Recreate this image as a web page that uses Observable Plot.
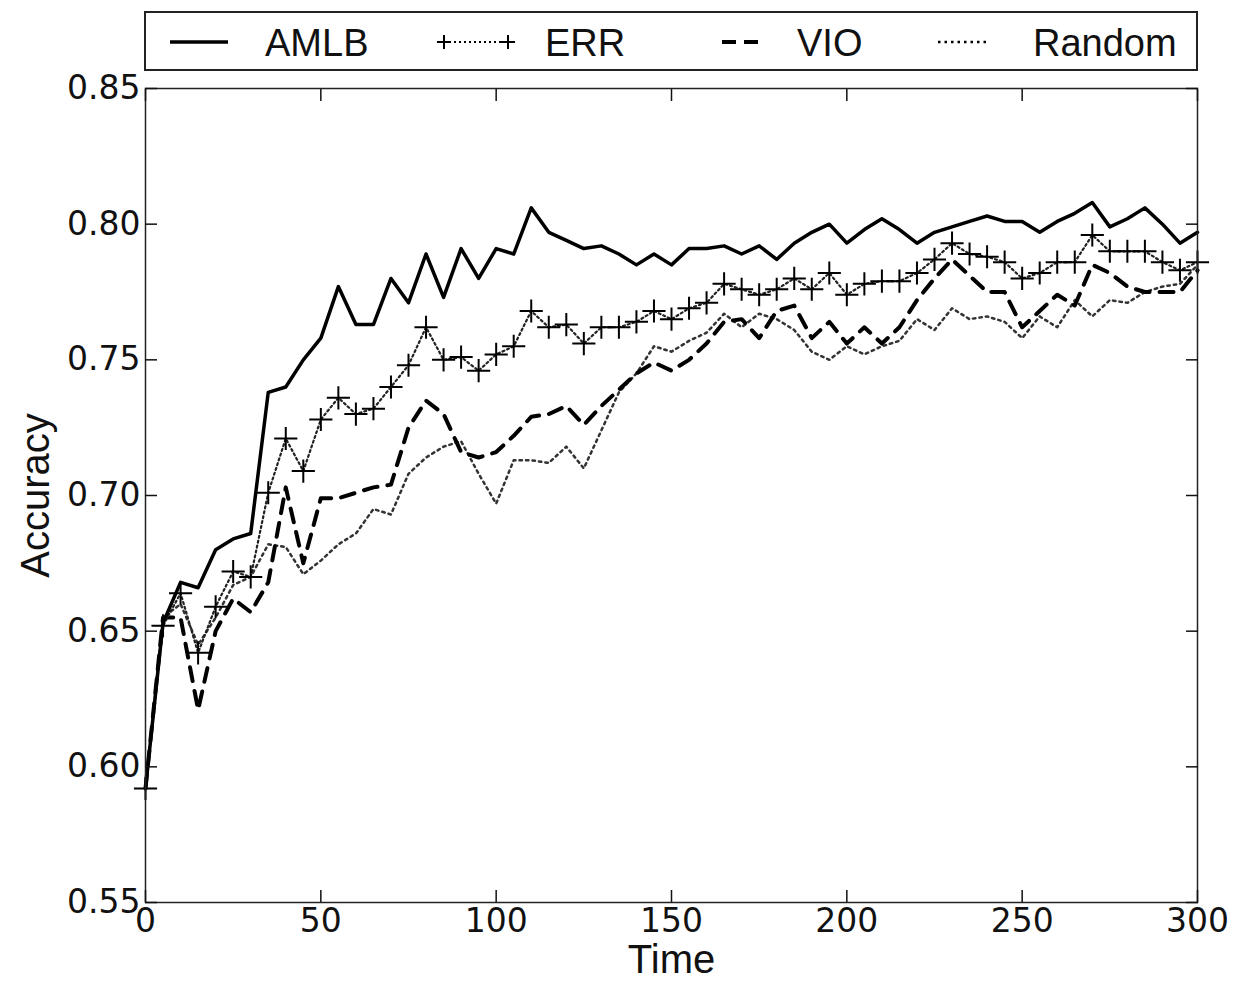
<!DOCTYPE html>
<html><head><meta charset="utf-8">
<script src="https://cdn.jsdelivr.net/npm/d3@7"></script>
<script src="https://cdn.jsdelivr.net/npm/@observablehq/plot@0.6"></script>
<style>
body{margin:0;background:#fff;}
#wrap{position:relative;width:1238px;height:982px;overflow:hidden;}
#wrap svg{position:absolute;left:0;top:0;}
</style></head><body><div id="wrap"></div>
<script>
const time = [0,5,10,15,20,25,30,35,40,45,50,55,60,65,70,75,80,85,90,95,100,105,110,115,120,125,130,135,140,145,150,155,160,165,170,175,180,185,190,195,200,205,210,215,220,225,230,235,240,245,250,255,260,265,270,275,280,285,290,295,300];
const amlb = [0.592,0.653,0.668,0.666,0.680,0.684,0.686,0.738,0.740,0.750,0.758,0.777,0.763,0.763,0.780,0.771,0.789,0.773,0.791,0.780,0.791,0.789,0.806,0.797,0.794,0.791,0.792,0.789,0.785,0.789,0.785,0.791,0.791,0.792,0.789,0.792,0.787,0.793,0.797,0.800,0.793,0.798,0.802,0.798,0.793,0.797,0.799,0.801,0.803,0.801,0.801,0.797,0.801,0.804,0.808,0.799,0.802,0.806,0.800,0.793,0.797];
const err = [0.592,0.652,0.664,0.642,0.659,0.672,0.670,0.701,0.721,0.709,0.728,0.736,0.730,0.732,0.740,0.748,0.762,0.750,0.751,0.746,0.752,0.755,0.768,0.762,0.763,0.756,0.762,0.762,0.764,0.768,0.765,0.769,0.771,0.778,0.776,0.774,0.776,0.780,0.776,0.782,0.774,0.778,0.779,0.779,0.782,0.787,0.793,0.789,0.788,0.786,0.780,0.782,0.786,0.786,0.796,0.790,0.790,0.790,0.786,0.783,0.786];
const vio = [0.592,0.655,0.655,0.621,0.650,0.662,0.657,0.668,0.703,0.675,0.699,0.699,0.701,0.703,0.704,0.725,0.735,0.730,0.716,0.714,0.716,0.722,0.729,0.730,0.733,0.726,0.733,0.739,0.745,0.749,0.746,0.750,0.756,0.764,0.765,0.758,0.768,0.770,0.758,0.764,0.756,0.762,0.756,0.762,0.772,0.780,0.787,0.781,0.775,0.775,0.762,0.768,0.774,0.770,0.785,0.782,0.777,0.775,0.775,0.775,0.783];
const random = [0.592,0.655,0.660,0.645,0.655,0.667,0.670,0.682,0.681,0.671,0.676,0.682,0.686,0.695,0.693,0.708,0.714,0.718,0.720,0.708,0.697,0.713,0.713,0.712,0.718,0.710,0.724,0.738,0.745,0.755,0.753,0.757,0.760,0.767,0.762,0.767,0.765,0.761,0.753,0.750,0.755,0.752,0.755,0.757,0.765,0.761,0.769,0.765,0.766,0.764,0.758,0.766,0.762,0.772,0.766,0.772,0.771,0.775,0.777,0.778,0.785];
const seriesNames = ["AMLB","ERR","VIO","Random"];
const xTicks = [0,50,100,150,200,250,300];
const yTicks = [0.55,0.60,0.65,0.70,0.75,0.80,0.85];

const rows = v => time.map((t,i)=>({t, v:v[i]}));
const fmt = d3.format(".2f");

const plot = Plot.plot({
  width:1238, height:982,
  marginLeft:145, marginRight:41, marginTop:88, marginBottom:80,
  style:{background:"#fff", fontFamily:"DejaVu Sans", fontSize:"33px", color:"#111", overflow:"visible"},
  x:{domain:[0,300]},
  y:{domain:[0.55,0.85]},
  marks:[
    Plot.line(rows(random), {x:"t", y:"v", stroke:"#333", strokeWidth:2.5, strokeDasharray:"2.5,4"}),
    Plot.line(rows(vio), {x:"t", y:"v", stroke:"#000", strokeWidth:4, strokeDasharray:"14,10"}),
    Plot.line(rows(err), {x:"t", y:"v", stroke:"#222", strokeWidth:2.2, strokeDasharray:"2,3"}),
    Plot.dot(rows(err), {x:"t", y:"v", symbol:"plus", r:7.5, stroke:"#000", strokeWidth:2}),
    Plot.line(rows(amlb), {x:"t", y:"v", stroke:"#000", strokeWidth:3.5}),
    Plot.frame({stroke:"#222", strokeWidth:1.5}),
    Plot.axisX({ticks:xTicks, tickSize:-12, tickPadding:18, strokeWidth:1.5, tickFormat:d=>String(d), label:"Time", labelAnchor:"center", labelArrow:"none", labelOffset:70}),
    Plot.axisX({anchor:"top", ticks:xTicks, tickSize:-12, strokeWidth:1.5, tickFormat:()=>"", label:null}),
    Plot.axisY({ticks:yTicks, tickSize:-12, tickPadding:17, strokeWidth:1.5, tickFormat:fmt, label:"Accuracy", labelAnchor:"center", labelArrow:"none", labelOffset:125}),
    Plot.axisY({anchor:"right", ticks:yTicks, tickSize:-12, strokeWidth:1.5, tickFormat:()=>"", label:null})
  ]
});
document.getElementById("wrap").appendChild(plot);
d3.select(plot).selectAll('[aria-label="x-axis label"] text, [aria-label="y-axis label"] text')
  .attr("font-family","Liberation Sans").attr("font-size","40px");

// Legend box
const lg = d3.select("#wrap").append("svg")
  .attr("width",1238).attr("height",80)
  .style("font-family","Liberation Sans").style("font-size","38px");
lg.append("rect").attr("x",145).attr("y",12).attr("width",1052).attr("height",58)
  .attr("fill","#fff").attr("stroke","#222").attr("stroke-width",2);
const cy = 42;
const items = [
  {name:seriesNames[0], x1:170, x2:228, tx:265, w:3.5, dash:null, plus:false},
  {name:seriesNames[1], x1:444, x2:508, tx:545, w:2, dash:"2,3", plus:true},
  {name:seriesNames[2], x1:722, x2:758, tx:797, w:4, dash:"14,8", plus:false},
  {name:seriesNames[3], x1:938, x2:988, tx:1033, w:2.5, dash:"2.5,4", plus:false}
];
for (const it of items) {
  lg.append("line").attr("x1",it.x1).attr("x2",it.x2).attr("y1",cy).attr("y2",cy)
    .attr("stroke","#000").attr("stroke-width",it.w).attr("stroke-dasharray",it.dash);
  if (it.plus) for (const px of [it.x1, it.x2]) {
    lg.append("path").attr("d",`M${px-7},${cy}H${px+7}M${px},${cy-7}V${cy+7}`)
      .attr("stroke","#000").attr("stroke-width",2);
  }
  lg.append("text").attr("x",it.tx).attr("y",cy).attr("dy","0.36em").attr("fill","#111").text(it.name);
}
</script></body></html>
